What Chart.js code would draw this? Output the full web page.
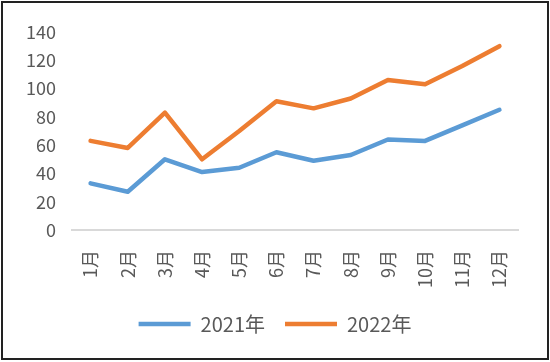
<!DOCTYPE html>
<html>
<head>
<meta charset="utf-8">
<script src="https://cdn.jsdelivr.net/npm/chart.js"></script>
<style>
    body { margin: 0; background: #fff; }
    #wrap { position: relative; width: 550px; height: 362px; }
    #frame { position: absolute; left: 1px; top: 1px; width: 544px; height: 355px; border: 2px solid #222; pointer-events: none; }
</style>
</head>
<body>
<div id="wrap">
    <canvas id="lineChart" width="550" height="362"></canvas>
    <div id="frame"></div>
</div>
<script>
// months on the x axis
const months = ['1月', '2月', '3月', '4月', '5月', '6月', '7月', '8月', '9月', '10月', '11月', '12月'];
const data2021 = [33, 27, 50, 41, 44, 55, 49, 53, 64, 63, 74, 85];
const data2022 = [63, 58, 83, 50, 70, 91, 86, 93, 106, 103, 116, 130];
const seriesNames = ['2021年', '2022年'];

const fontFamily = '"Noto Sans CJK SC", "Noto Sans", sans-serif';
const textColor = '#595959';

const config = {
    type: 'line',
    data: {
        labels: months,
        datasets: [
            {
                label: seriesNames[0],
                data: data2021,
                borderColor: '#5B9BD5',
                backgroundColor: '#5B9BD5',
                borderWidth: 4.5,
                borderCapStyle: 'round',
                borderJoinStyle: 'round',
                pointRadius: 0,
                tension: 0,
                fill: false
            },
            {
                label: seriesNames[1],
                data: data2022,
                borderColor: '#ED7D31',
                backgroundColor: '#ED7D31',
                borderWidth: 4.5,
                borderCapStyle: 'round',
                borderJoinStyle: 'round',
                pointRadius: 0,
                tension: 0,
                fill: false
            }
        ]
    },
    options: {
        responsive: false,
        animation: false,
        layout: {
            padding: {top: 32, right: 0, bottom: 18, left: 0}
        },
        plugins: {
            tooltip: {enabled: false},
            legend: {
                position: 'bottom',
                labels: {
                    usePointStyle: true,
                    pointStyle: 'line',
                    pointStyleWidth: 52,
                    padding: 20,
                    color: textColor,
                    font: {family: fontFamily, size: 20}
                }
            }
        },
        scales: {
            x: {
                offset: true,
                grid: {display: false},
                border: {display: true, color: '#d9d9d9', width: 2},
                ticks: {
                    maxRotation: 90,
                    minRotation: 90,
                    padding: 12,
                    color: textColor,
                    font: {family: fontFamily, size: 18}
                },
                afterFit: function (scale) {
                    scale.height = 64;
                }
            },
            y: {
                min: 0,
                max: 140,
                grid: {display: false, drawTicks: false},
                border: {display: false},
                ticks: {
                    stepSize: 20,
                    padding: 16,
                    color: textColor,
                    font: {family: fontFamily, size: 18}
                },
                afterFit: function (scale) {
                    scale.width = 72;
                }
            },
            // empty right axis, only keeps space on the right side
            yRight: {
                position: 'right',
                min: 0,
                max: 140,
                grid: {display: false, drawTicks: false},
                border: {display: false},
                ticks: {display: false},
                afterFit: function (scale) {
                    scale.width = 32;
                }
            }
        }
    }
};

const myChart = new Chart(document.getElementById('lineChart'), config);
</script>
</body>
</html>
